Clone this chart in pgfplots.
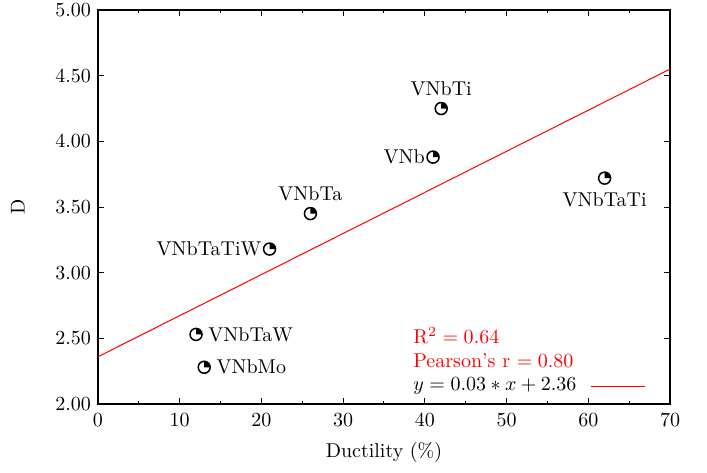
\documentclass[border=0pt]{standalone}
\usepackage{pgfplots}
\pgfplotsset{compat=1.18}

% circle with the upper right quarter filled
\pgfdeclareplotmark{qcirc}{%
  \pgfpathcircle{\pgfpointorigin}{\pgfplotmarksize}%
  \pgfusepathqstroke
  \pgfpathmoveto{\pgfpointorigin}%
  \pgfpathlineto{\pgfqpoint{0pt}{\pgfplotmarksize}}%
  \pgfpatharc{90}{0}{\pgfplotmarksize}%
  \pgfpathclose
  \pgfusepathqfill
}

\tikzset{
  lab/.style={font=\normalsize, inner sep=0pt},
}

\begin{document}
\begin{tikzpicture}
\begin{axis}[
  scale only axis,
  width=286pt, height=197pt,
  xmin=0, xmax=70, ymin=2, ymax=5,
  xtick={0,10,...,70},
  minor xtick={5,15,...,65},
  ytick={2,2.5,...,5},
  yticklabel style={/pgf/number format/.cd, fixed, fixed zerofill, precision=2},
  xticklabel style={yshift=-1.5pt},
  tick align=inside,
  major tick length=3pt, minor tick length=1.5pt,
  axis line style={line width=0.6pt},
  tick style={line width=0.5pt, black},
  xlabel={Ductility (\%)},
  ylabel={D},
  xlabel style={at={(axis description cs:0.5,-0.124)}, anchor=center},
  ylabel style={at={(axis description cs:-0.140,0.5)}, anchor=center},
  clip=false,
]
% fit line
\addplot[red, line width=0.5pt, mark=none] coordinates {(0,2.36) (70,4.55)};

% alloys
\addplot[only marks, mark=qcirc, mark size=3pt,
  mark options={black, line width=0.75pt}] coordinates {
  (42,4.25) (41,3.88) (62,3.72) (26,3.45) (21,3.18) (12,2.53) (13,2.28)};

\node[lab, anchor=center] at (axis cs:42,4.25) [yshift=10pt] {VNbTi};
\node[lab, anchor=east]   at (axis cs:41,3.88) [xshift=-4pt] {VNb};
\node[lab, anchor=center] at (axis cs:62,3.72) [yshift=-11pt] {VNbTaTi};
\node[lab, anchor=center] at (axis cs:26,3.45) [yshift=10pt] {VNbTa};
\node[lab, anchor=east]   at (axis cs:21,3.18) [xshift=-4pt] {VNbTaTiW};
\node[lab, anchor=west]   at (axis cs:12,2.53) [xshift=6pt] {VNbTaW};
\node[lab, anchor=west]   at (axis cs:13,2.28) [xshift=6pt] {VNbMo};

% stats and key
\node[lab, anchor=west, text=red] at (axis cs:38.55,2.518) {R$^2 = 0.64$};
\node[lab, anchor=west, text=red] at (axis cs:38.55,2.327) {Pearson's r $= 0.80$};
\node[lab, anchor=west] at (axis cs:38.55,2.137) {$y = 0.03*x + 2.36$};
\draw[red, line width=0.5pt] (axis cs:60.3,2.137) -- (axis cs:66.9,2.137);

\coordinate (bl) at (rel axis cs:-0.1713,-0.1726);
\coordinate (tr) at (rel axis cs:1.0647,1.0254);
\end{axis}
\pgfresetboundingbox
\path[use as bounding box] (bl) rectangle (tr);
\end{tikzpicture}
\end{document}
